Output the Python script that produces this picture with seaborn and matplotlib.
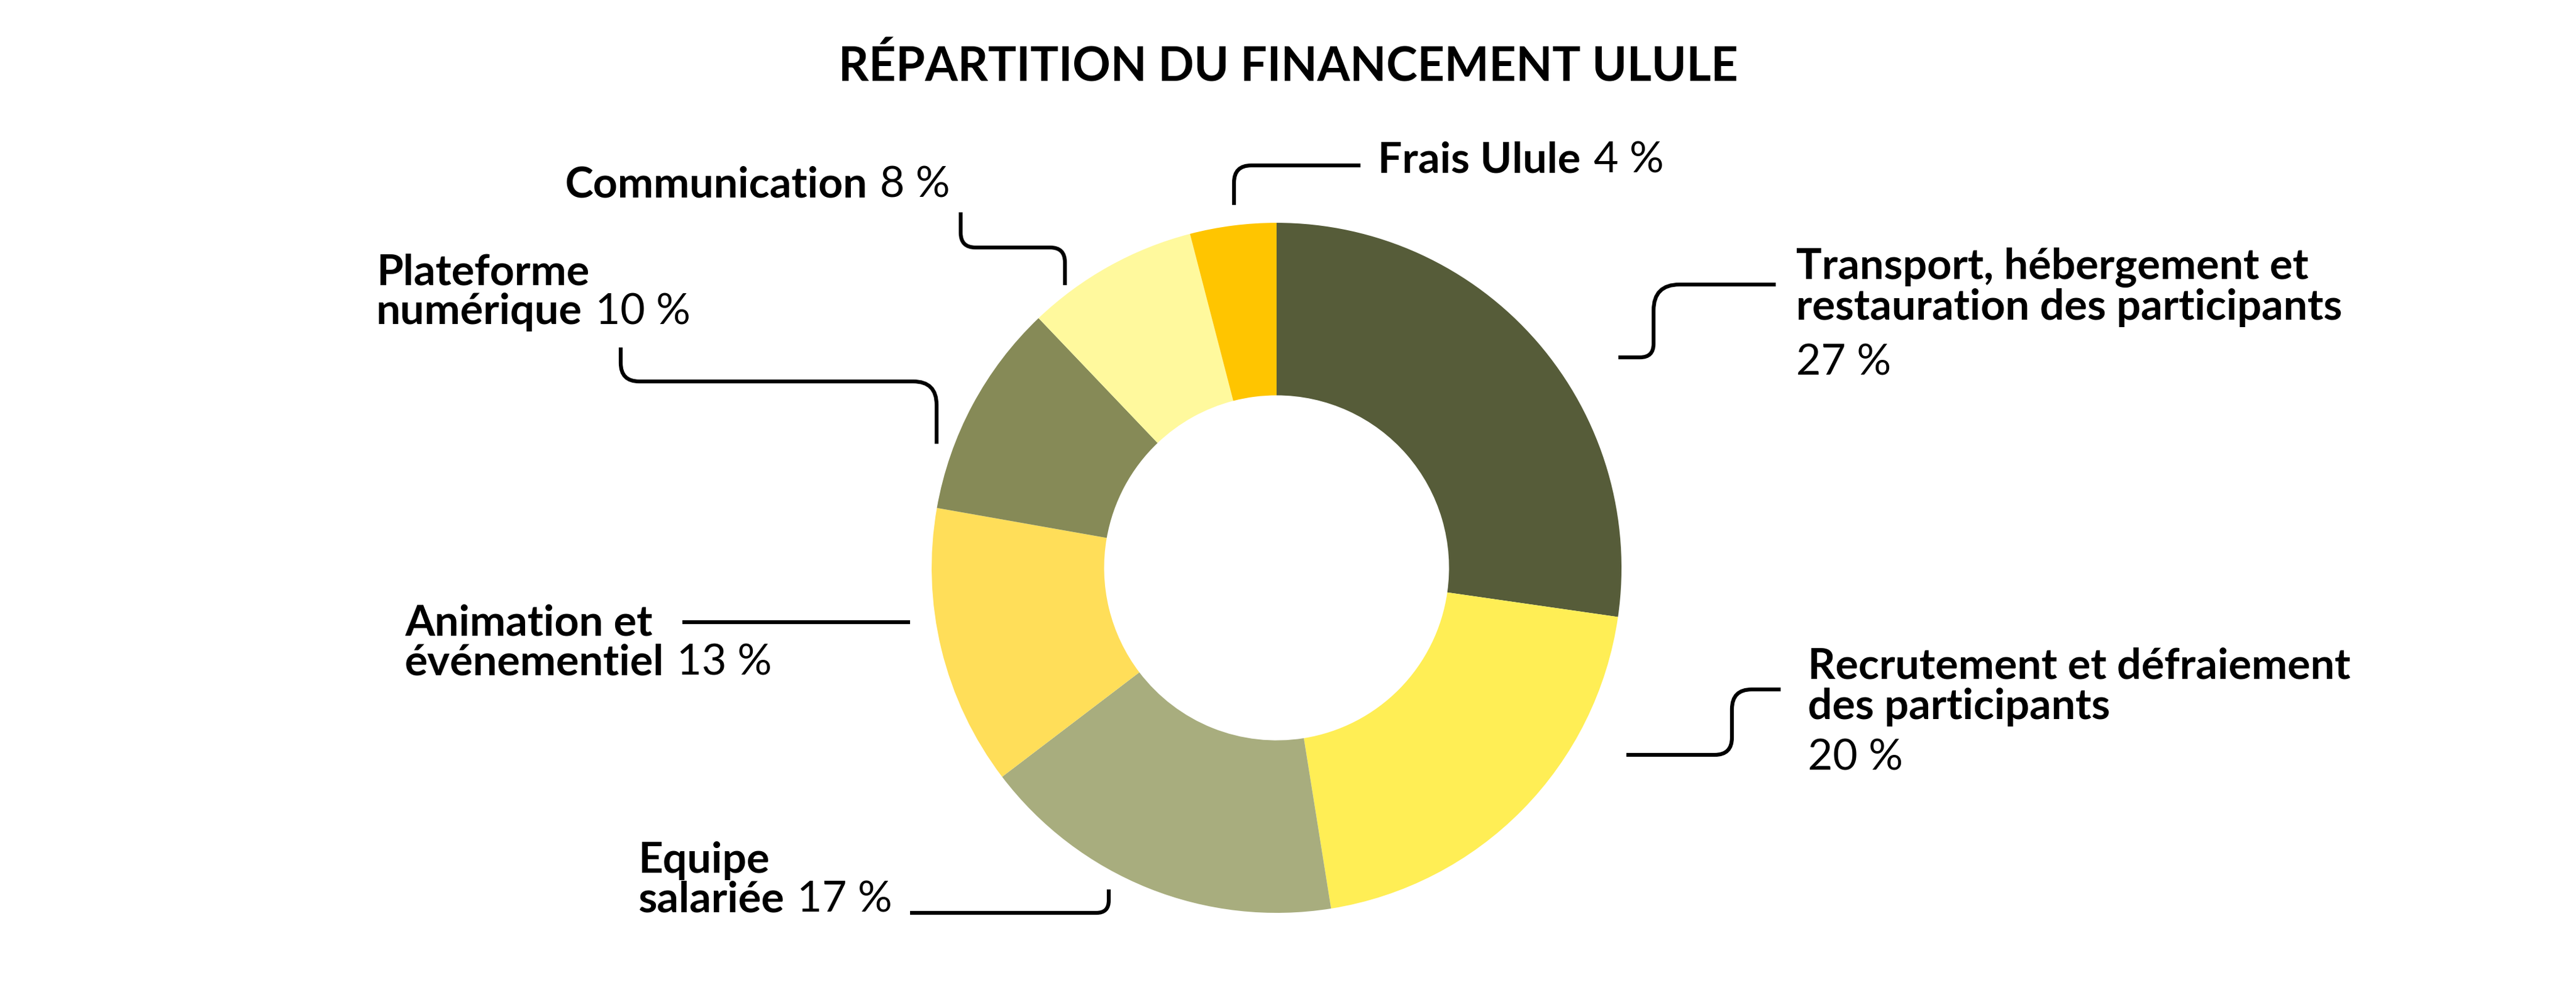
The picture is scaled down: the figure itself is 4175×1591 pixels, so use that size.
import matplotlib
matplotlib.use("Agg")
import numpy as np
import matplotlib.pyplot as plt
from matplotlib.path import Path
from matplotlib.patches import PathPatch
import seaborn as sns

W, H = 4175, 1591

title = "RÉPARTITION DU FINANCEMENT ULULE"
categories = [
    "Transport, hébergement et restauration des participants",
    "Recrutement et défraiement des participants",
    "Equipe salariée",
    "Animation et événementiel",
    "Plateforme numérique",
    "Communication",
    "Frais Ulule",
]
values = [27, 20, 17, 13, 10, 8, 4]
colors = ["#565c39", "#ffee55", "#a8ad7e", "#ffde59", "#868a57", "#fff99d", "#ffc500"]

# how each label is broken into lines; the value goes after the last line
label_lines = [
    ["Transport, hébergement et", "restauration des participants", ""],
    ["Recrutement et défraiement", "des participants", ""],
    ["Equipe", "salariée"],
    ["Animation et", "événementiel"],
    ["Plateforme", "numérique"],
    ["Communication"],
    ["Frais Ulule"],
]

# label placement in image pixels: left x, baselines of each line
label_pos = [
    (2911, [452, 518, 607]),
    (2930, [1100, 1165, 1248]),
    (1034, [1414, 1477]),
    (656, [1030, 1093]),
    (610, [462, 525]),
    (915, [320]),
    (2233, [279]),
]

# leader lines in image pixels (points, corner radius)
leaders = [
    ([(2878, 461), (2680, 461), (2680, 579), (2623, 579)], [42, 22]),
    ([(2886, 1117), (2807, 1117), (2807, 1223), (2636, 1223)], [32, 28]),
    ([(1475, 1479), (1797, 1479), (1797, 1441)], [20]),
    ([(1106, 1008), (1475, 1008)], []),
    ([(1006, 563), (1006, 618), (1518, 618), (1518, 719)], [30, 38]),
    ([(1557, 344), (1557, 401), (1726, 401), (1726, 462)], [24, 24]),
    ([(2205, 268), (2000, 268), (2000, 332)], [28]),
]

center = (2069, 920)
radius = 559


def rounded_path(pts, radii):
    pts = [np.array([x, H - y], dtype=float) for x, y in pts]
    verts = [pts[0]]
    codes = [Path.MOVETO]
    for i in range(1, len(pts) - 1):
        p0, p1, p2 = pts[i - 1], pts[i], pts[i + 1]
        d0 = (p0 - p1) / np.linalg.norm(p0 - p1)
        d2 = (p2 - p1) / np.linalg.norm(p2 - p1)
        r = radii[i - 1]
        verts += [p1 + d0 * r, p1, p1 + d2 * r]
        codes += [Path.LINETO, Path.CURVE3, Path.CURVE3]
    verts.append(pts[-1])
    codes.append(Path.LINETO)
    return Path(verts, codes)


sns.set_theme(style="white")
plt.rcParams["font.family"] = ["Lato", "DejaVu Sans"]

fig = plt.figure(figsize=(W / 100, H / 100), dpi=100)
ax = fig.add_axes([0, 0, 1, 1])

ax.pie(
    values,
    colors=sns.color_palette(colors),
    startangle=90,
    counterclock=False,
    center=(center[0], H - center[1]),
    radius=radius,
    wedgeprops=dict(width=radius * 0.5, linewidth=0),
)
ax.set_xlim(0, W)
ax.set_ylim(0, H)
ax.set_aspect("auto")
ax.axis("off")

ax.text(2088, H - 132, title, ha="center", va="baseline",
        fontsize=55, fontweight="bold", color="black")

renderer = fig.canvas.get_renderer()
fs = 50
for lines, val, (x0, baselines) in zip(label_lines, values, label_pos):
    for k, (line, yb) in enumerate(zip(lines, baselines)):
        x_next = x0
        if line:
            t = ax.text(x0, H - yb, line, ha="left", va="baseline",
                        fontsize=fs, fontweight="bold", color="black")
            x_next = t.get_window_extent(renderer).x1 + 0.3 * fs * 100 / 72
        if k == len(lines) - 1:
            ax.text(x_next, H - yb, f"{val} %", ha="left", va="baseline",
                    fontsize=fs, fontweight="normal", color="black")

for pts, radii in leaders:
    ax.add_patch(PathPatch(rounded_path(pts, radii), fill=False,
                           edgecolor="black", linewidth=4.5, capstyle="butt"))

fig.savefig("out.png", dpi=100, facecolor="white")
